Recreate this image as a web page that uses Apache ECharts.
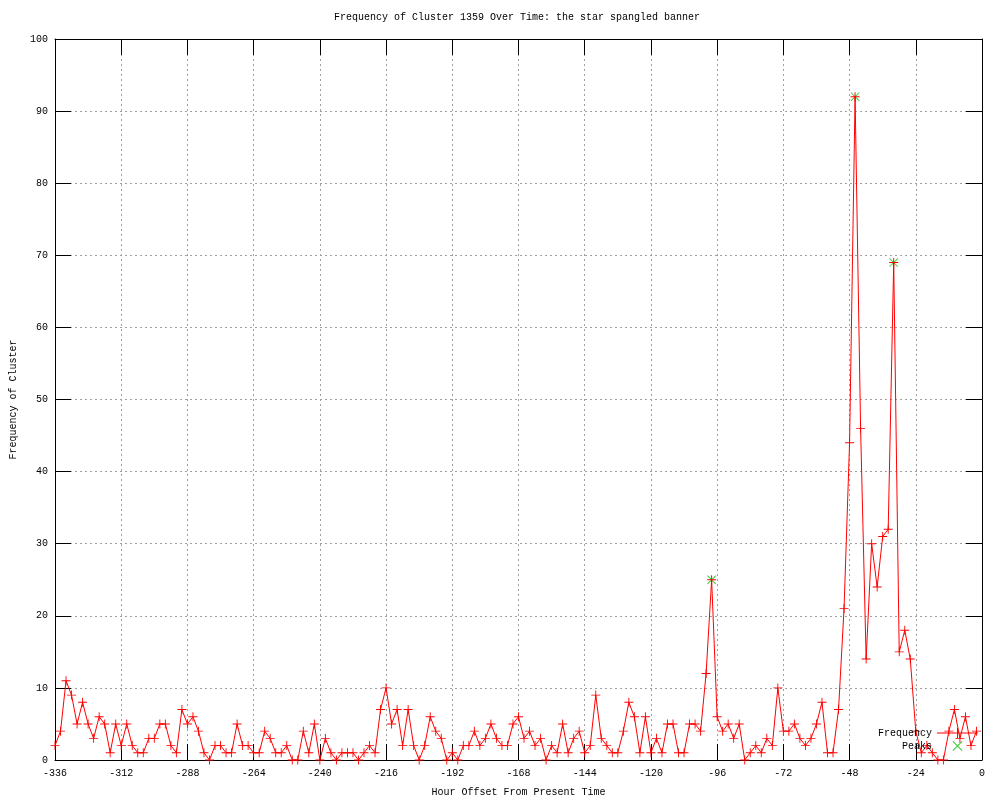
<!DOCTYPE html>
<html>
<head>
<meta charset="utf-8">
<script src="https://cdn.jsdelivr.net/npm/echarts@6/dist/echarts.min.js"></script>
<style>
html,body{margin:0;padding:0;background:#fff;}
#chart{width:1000px;height:800px;}
</style>
</head>
<body>
<div id="chart"></div>
<script>
// Hour offsets (x) and cluster frequency (y)
var hours = [
-336,-334,-332,-330,-328,-326,-324,-322,-320,-318,-316,-314,-312,-310,-308,-306,-304,-302,-300,-298,
-296,-294,-292,-290,-288,-286,-284,-282,-280,-278,-276,-274,-272,-270,-268,-266,-264,-262,-260,-258,
-256,-254,-252,-250,-248,-246,-244,-242,-240,-238,-236,-234,-232,-230,-228,-226,-224,-222,-220,-218,
-216,-214,-212,-210,-208,-206,-204,-202,-200,-198,-196,-194,-192,-190,-188,-186,-184,-182,-180,-178,
-176,-174,-172,-170,-168,-166,-164,-162,-160,-158,-156,-154,-152,-150,-148,-146,-144,-142,-140,-138,
-136,-134,-132,-130,-128,-126,-124,-122,-120,-118,-116,-114,-112,-110,-108,-106,-104,-102,-100,-98,
-96,-94,-92,-90,-88,-86,-84,-82,-80,-78,-76,-74,-72,-70,-68,-66,-64,-62,-60,-58,
-56,-54,-52,-50,-48,-46,-44,-42,-40,-38,-36,-34,-32,-30,-28,-26,-24,-22,-20,-18,
-16,-14,-12,-10,-8,-6,-4,-2
];
var frequency = [
2,4,11,9,5,8,5,3,6,5,1,5,2,5,2,1,1,3,3,5,
5,2,1,7,5,6,4,1,0,2,2,1,1,5,2,2,1,1,4,3,
1,1,2,0,0,4,1,5,0,3,1,0,1,1,1,0,1,2,1,7,
10,5,7,2,7,2,0,2,6,4,3,0,1,0,2,2,4,2,3,5,
3,2,2,5,6,3,4,2,3,0,2,1,5,1,3,4,1,2,9,3,
2,1,1,4,8,6,1,6,1,3,1,5,5,1,1,5,5,4,12,25,
6,4,5,3,5,0,1,2,1,3,2,10,4,4,5,3,2,3,5,8,
1,1,7,21,44,92,46,14,30,24,31,32,69,15,18,14,4,1,2,1,
0,0,4,7,3,6,2,4
];
var peakHours = [-98, -46, -32];
var peakValues = [25, 92, 69];
var xTicks = {min: -336, max: 0, step: 24};
var yTicks = {min: 0, max: 100, step: 10};

var freqData = hours.map(function (h, i) { return [h, frequency[i]]; });
var peakData = peakHours.map(function (h, i) { return [h, peakValues[i]]; });

var FONT = 'Liberation Mono';
var plusPath = 'path://M0,4.5H10V5.5H0Z M4.5,0H5.5V10H4.5Z';
var crossPath = 'path://M0,0.7L0.7,0L10,9.3L9.3,10Z M9.3,0L10,0.7L0.7,10L0,9.3Z';
var legendLinePath = 'path://M0,4.5H41V5.5H0Z M16,4.5H25V5.5H16Z M20,0H21V10H20Z';

function axisCommon(extra) {
  var base = {
    axisLine: {show: true, onZero: false, lineStyle: {color: '#000', width: 1}},
    axisTick: {show: true, inside: true, length: 16, lineStyle: {color: '#000', width: 1}},
    splitLine: {show: false},
    axisLabel: {show: false}
  };
  for (var k in extra) base[k] = extra[k];
  return base;
}
var gridLine = {show: true, lineStyle: {color: '#a0a0a0', width: 1, type: [2, 3]}};

var chart = echarts.init(document.getElementById('chart'), null, {renderer: 'canvas'});
chart.setOption({
  animation: false,
  backgroundColor: '#ffffff',
  title: {
    text: 'Frequency of Cluster 1359 Over Time: the star spangled banner',
    left: 512, top: 7, textAlign: 'center',
    textStyle: {fontFamily: FONT, fontSize: 10, fontWeight: 'normal', color: '#000'}
  },
  grid: {left: 55, right: 18, top: 39, bottom: 40, containLabel: false, outerBoundsMode: 'none'},
  legend: {
    orient: 'vertical', right: 22, top: 728, align: 'right', padding: 0,
    itemWidth: 41, itemHeight: 10, itemGap: 3,
    textStyle: {fontFamily: FONT, fontSize: 10, color: '#000'},
    data: [
      {name: 'Frequency', icon: legendLinePath},
      {name: 'Peaks', icon: crossPath}
    ]
  },
  xAxis: [
    axisCommon({
      type: 'value', position: 'bottom', min: xTicks.min, max: xTicks.max, interval: xTicks.step,
      name: 'Hour Offset From Present Time', nameLocation: 'middle', nameGap: 27,
      nameTextStyle: {fontFamily: FONT, fontSize: 10, color: '#000'},
      axisLabel: {show: true, margin: 8, fontFamily: FONT, fontSize: 10, color: '#000'},
      splitLine: gridLine
    }),
    axisCommon({type: 'value', position: 'top', min: xTicks.min, max: xTicks.max, interval: xTicks.step})
  ],
  yAxis: [
    axisCommon({
      type: 'value', position: 'left', min: yTicks.min, max: yTicks.max, interval: yTicks.step,
      name: 'Frequency of Cluster', nameLocation: 'middle', nameGap: 37, nameRotate: 90,
      nameTextStyle: {fontFamily: FONT, fontSize: 10, color: '#000'},
      axisLabel: {show: true, margin: 7, fontFamily: FONT, fontSize: 10, color: '#000'},
      splitLine: gridLine
    }),
    axisCommon({type: 'value', position: 'right', min: yTicks.min, max: yTicks.max, interval: yTicks.step})
  ],
  series: [
    {
      name: 'Frequency', type: 'line', data: freqData,
      xAxisIndex: 0, yAxisIndex: 0,
      symbol: plusPath, symbolSize: 9, showAllSymbol: true, clip: false,
      lineStyle: {color: '#ff0000', width: 1},
      itemStyle: {color: '#ff0000'},
      emphasis: {disabled: true}
    },
    {
      name: 'Peaks', type: 'scatter', data: peakData,
      xAxisIndex: 0, yAxisIndex: 0,
      symbol: crossPath, symbolSize: 9, symbolKeepAspect: true, clip: false,
      itemStyle: {color: '#00c000'},
      emphasis: {disabled: true}
    }
  ]
});
</script>
</body>
</html>
